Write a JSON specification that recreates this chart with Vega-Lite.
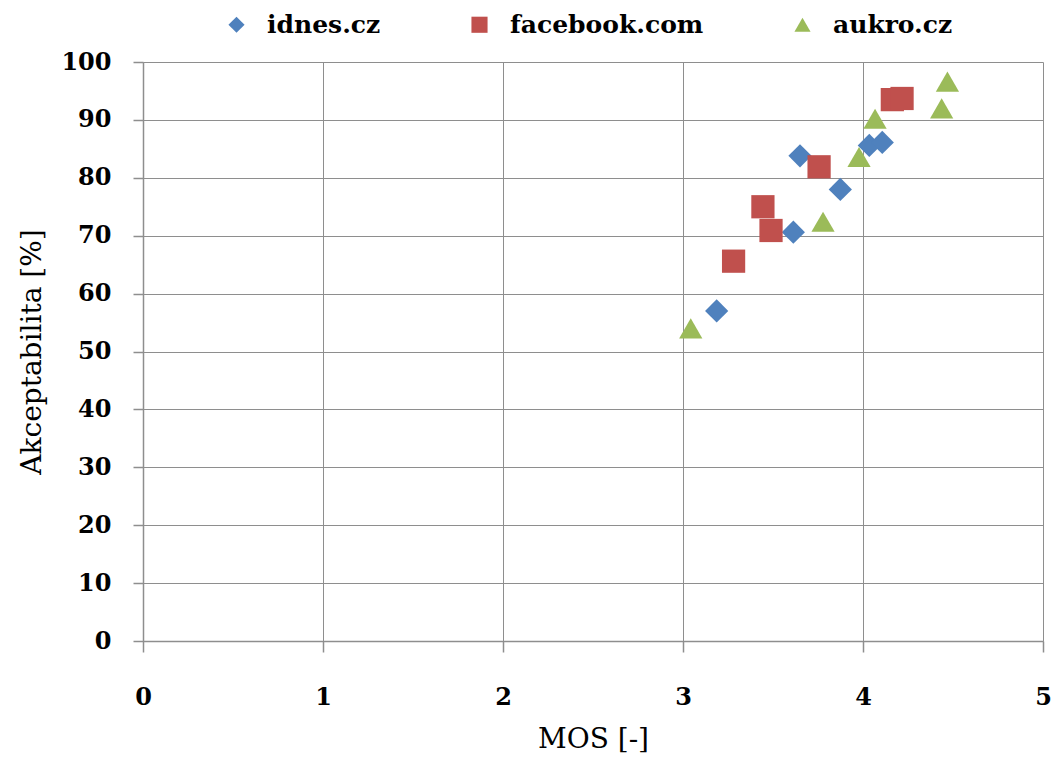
{
  "$schema": "https://vega.github.io/schema/vega-lite/v6.json",
  "autosize": "none",
  "width": 900,
  "height": 579,
  "padding": {"left": 143, "top": 62, "right": 14, "bottom": 121},
  "background": "white",
  "config": {
    "view": {"stroke": null},
    "font": "DejaVu Serif"
  },
  "data": {
    "values": [
      {"site": "idnes.cz", "mos": 3.187, "acc": 57.0},
      {"site": "idnes.cz", "mos": 3.613, "acc": 70.6},
      {"site": "idnes.cz", "mos": 3.65, "acc": 83.8},
      {"site": "idnes.cz", "mos": 3.874, "acc": 78.0},
      {"site": "idnes.cz", "mos": 4.035, "acc": 85.6},
      {"site": "idnes.cz", "mos": 4.107, "acc": 86.1},
      {"site": "facebook.com", "mos": 3.281, "acc": 65.6},
      {"site": "facebook.com", "mos": 3.444, "acc": 75.0},
      {"site": "facebook.com", "mos": 3.489, "acc": 70.9},
      {"site": "facebook.com", "mos": 3.756, "acc": 81.9},
      {"site": "facebook.com", "mos": 4.163, "acc": 93.5},
      {"site": "facebook.com", "mos": 4.217, "acc": 93.7},
      {"site": "aukro.cz", "mos": 3.043, "acc": 54.0},
      {"site": "aukro.cz", "mos": 3.778, "acc": 72.4},
      {"site": "aukro.cz", "mos": 3.978, "acc": 83.6},
      {"site": "aukro.cz", "mos": 4.067, "acc": 90.2},
      {"site": "aukro.cz", "mos": 4.437, "acc": 92.0},
      {"site": "aukro.cz", "mos": 4.469, "acc": 96.6}
    ]
  },
  "mark": {"type": "point", "filled": true, "opacity": 1, "size": 540},
  "encoding": {
    "x": {
      "field": "mos", "type": "quantitative",
      "scale": {"domain": [0, 5], "nice": false, "zero": true},
      "axis": {
        "title": "MOS [-]", "values": [0, 1, 2, 3, 4, 5], "format": "d",
        "grid": true, "gridColor": "#8e8e8e", "gridWidth": 1, "gridOpacity": 1,
        "domainColor": "#8e8e8e", "domainWidth": 1.5,
        "tickColor": "#8e8e8e", "tickSize": 11, "tickWidth": 1.5,
        "labelFont": "DejaVu Serif", "labelFontWeight": "bold", "labelFontSize": 24, "labelColor": "black",
        "labelPadding": 33, "labelFlush": false,
        "titleFont": "DejaVu Serif", "titleFontWeight": "normal", "titleFontSize": 28, "titleColor": "black",
        "titlePadding": 16
      }
    },
    "y": {
      "field": "acc", "type": "quantitative",
      "scale": {"domain": [0, 100], "nice": false},
      "axis": {
        "title": "Akceptabilita [%]", "values": [0, 10, 20, 30, 40, 50, 60, 70, 80, 90, 100],
        "grid": true, "gridColor": "#8e8e8e", "gridWidth": 1, "gridOpacity": 1,
        "domainColor": "#8e8e8e", "domainWidth": 1.5,
        "tickColor": "#8e8e8e", "tickSize": 10, "tickWidth": 1.5,
        "labelFont": "DejaVu Serif", "labelFontWeight": "bold", "labelFontSize": 24, "labelColor": "black",
        "labelPadding": 22, "labelFlush": false,
        "titleFont": "DejaVu Serif", "titleFontWeight": "normal", "titleFontSize": 28, "titleColor": "black",
        "titlePadding": 14
      }
    },
    "color": {
      "field": "site", "type": "nominal",
      "scale": {"domain": ["idnes.cz", "facebook.com", "aukro.cz"], "range": ["#4F81BD", "#C0504D", "#9BBB59"]},
      "legend": {
        "title": null, "orient": "none", "direction": "horizontal",
        "legendX": 81, "legendY": -50,
        "symbolSize": 260, "symbolStrokeWidth": 0, "symbolOpacity": 1,
        "labelFont": "DejaVu Serif", "labelFontWeight": "bold", "labelFontSize": 25, "labelColor": "black",
        "labelLimit": 0,
        "labelOffset": 18, "columnPadding": 86, "padding": 0
      }
    },
    "shape": {
      "field": "site", "type": "nominal",
      "scale": {"domain": ["idnes.cz", "facebook.com", "aukro.cz"], "range": ["diamond", "square", "triangle-up"]},
      "legend": null
    }
  }
}
